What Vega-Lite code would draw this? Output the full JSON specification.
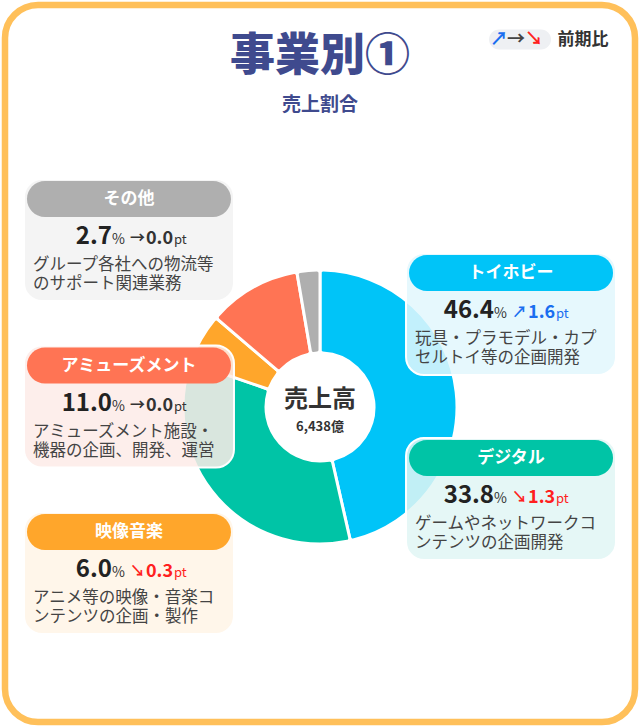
{
  "$schema": "https://vega.github.io/schema/vega-lite/v6.json",
  "width": 640,
  "height": 727,
  "autosize": {"type": "fit", "contains": "padding"},
  "padding": 5,
  "background": "white",
  "config": {
    "font": "Noto Sans CJK JP",
    "view": {"stroke": "#FFC05A", "strokeWidth": 6.5, "cornerRadius": 33, "fill": "white"},
    "text": {"font": "Noto Sans CJK JP"}
  },
  "datasets": {
    "segments": [
      {"rank": 1, "segment": "トイホビー", "share": 46.4, "change": 1.6, "trend": "up", "note": "玩具・プラモデル・カプ\nセルトイ等の企画開発"},
      {"rank": 2, "segment": "デジタル", "share": 33.8, "change": 1.3, "trend": "down", "note": "ゲームやネットワークコ\nンテンツの企画開発"},
      {"rank": 3, "segment": "映像音楽", "share": 6.0, "change": 0.3, "trend": "down", "note": "アニメ等の映像・音楽コ\nンテンツの企画・製作"},
      {"rank": 4, "segment": "アミューズメント", "share": 11.0, "change": 0.0, "trend": "flat", "note": "アミューズメント施設・\n機器の企画、開発、運営"},
      {"rank": 5, "segment": "その他", "share": 2.7, "change": 0.0, "trend": "flat", "note": "グループ各社への物流等\nのサポート関連業務"}
    ],
    "total": [{"label": "売上高", "amount": "6,438億"}],
    "headings": [
      {"slot": "タイトル", "text": "事業別①"},
      {"slot": "サブタイトル", "text": "売上割合"},
      {"slot": "凡例", "text": "前期比"}
    ],
    "trends": [
      {"trend": "up", "symbol": "↗"},
      {"trend": "flat", "symbol": "→"},
      {"trend": "down", "symbol": "↘"}
    ]
  },
  "resolve": {"scale": {"y": "independent"}},
  "layer": [
    {
      "data": {"name": "segments"},
      "encoding": {
        "x": {"datum": "中", "type": "nominal", "axis": null, "scale": {"type": "point", "domain": ["左", "中", "右"], "padding": 0.649}},
        "y": {"datum": "売上高", "type": "nominal", "axis": null, "scale": {"type": "point", "domain": ["売上高"], "padding": 1, "align": 0.5607}}
      },
      "layer": [
        {
          "mark": {"type": "arc", "outerRadius": 137, "innerRadius": 54, "stroke": "white", "strokeWidth": 3, "cornerRadius": 3},
          "encoding": {
            "theta": {"field": "share", "type": "quantitative", "stack": true},
            "order": {"field": "rank", "type": "quantitative", "sort": "ascending"},
            "color": {"field": "segment", "type": "nominal", "legend": null,
              "scale": {"domain": ["トイホビー", "デジタル", "映像音楽", "アミューズメント", "その他"], "range": ["#00C4F8", "#00C4A6", "#FFA62B", "#FF7454", "#AFAFAF"]}}
          }
        },
        {
          "data": {"name": "total"},
          "mark": {"type": "text", "dy": -7, "fontSize": 24, "fontWeight": "bold", "color": "#333333"},
          "encoding": {"text": {"field": "label", "type": "nominal"}}
        },
        {
          "data": {"name": "total"},
          "mark": {"type": "text", "dy": 20, "fontSize": 13, "fontWeight": "bold", "color": "#333333"},
          "encoding": {"text": {"field": "amount", "type": "nominal"}}
        }
      ]
    },
    {
      "layer": [
        {
          "data": {"name": "headings"},
          "transform": [{"filter": {"field": "slot", "equal": "タイトル"}}],
          "mark": {"type": "text", "fontSize": 45, "fontWeight": 900, "color": "#3F4A8E", "dy": 1},
          "encoding": {
            "x": {"datum": "中", "type": "nominal", "axis": null, "scale": {"type": "point", "domain": ["左", "中", "右"], "padding": 0.649}},
            "y": {"field": "slot", "type": "nominal", "axis": null, "scale": {"type": "point", "padding": 0.3784, "align": 1, "domain": ["_0","凡例","タイトル","_3","_4","サブタイトル","_6","_7","_8","_9","_10","_11","その他","_13","_14","_15","トイホビー","_17","_18","_19","_20","アミューズメント","_22","_23","_24","_25","デジタル","_27","_28","_29","映像音楽","_31","_32","_33","_34","_35","_36","_37","_38"]}},
            "text": {"field": "text", "type": "nominal"}
          }
        },
        {
          "data": {"name": "headings"},
          "transform": [{"filter": {"field": "slot", "equal": "サブタイトル"}}],
          "mark": {"type": "text", "fontSize": 19, "fontWeight": "bold", "color": "#3F4A8E", "dy": -7},
          "encoding": {
            "x": {"datum": "中", "type": "nominal", "axis": null, "scale": {"type": "point", "domain": ["左", "中", "右"], "padding": 0.649}},
            "y": {"field": "slot", "type": "nominal", "axis": null, "scale": {"type": "point", "padding": 0.3784, "align": 1, "domain": ["_0","凡例","タイトル","_3","_4","サブタイトル","_6","_7","_8","_9","_10","_11","その他","_13","_14","_15","トイホビー","_17","_18","_19","_20","アミューズメント","_22","_23","_24","_25","デジタル","_27","_28","_29","映像音楽","_31","_32","_33","_34","_35","_36","_37","_38"]}},
            "text": {"field": "text", "type": "nominal"}
          }
        },
        {
          "data": {"name": "headings"},
          "transform": [{"filter": {"field": "slot", "equal": "凡例"}}],
          "encoding": {
            "x": {"datum": "右", "type": "nominal", "axis": null, "scale": {"type": "point", "domain": ["左", "中", "右"], "padding": 0.649}},
            "y": {"field": "slot", "type": "nominal", "axis": null, "scale": {"type": "point", "padding": 0.3784, "align": 1, "domain": ["_0","凡例","タイトル","_3","_4","サブタイトル","_6","_7","_8","_9","_10","_11","その他","_13","_14","_15","トイホビー","_17","_18","_19","_20","アミューズメント","_22","_23","_24","_25","デジタル","_27","_28","_29","映像音楽","_31","_32","_33","_34","_35","_36","_37","_38"]}}
          },
          "layer": [
            {
              "mark": {"type": "rect", "width": 62, "height": 20, "cornerRadius": 10, "color": "#EEF0F3"},
              "encoding": {"xOffset": {"value": 9}, "yOffset": {"value": 2}}
            },
            {
              "mark": {"type": "text", "fontSize": 17, "fontWeight": "bold", "color": "#333333", "dx": 72, "dy": 2},
              "encoding": {"text": {"field": "text", "type": "nominal"}}
            }
          ]
        },
        {
          "data": {"name": "trends"},
          "encoding": {
            "x": {"datum": "右", "type": "nominal", "axis": null, "scale": {"type": "point", "domain": ["左", "中", "右"], "padding": 0.649}},
            "y": {"datum": "凡例", "type": "nominal", "axis": null, "scale": {"type": "point", "padding": 0.3784, "align": 1, "domain": ["_0","凡例","タイトル","_3","_4","サブタイトル","_6","_7","_8","_9","_10","_11","その他","_13","_14","_15","トイホビー","_17","_18","_19","_20","アミューズメント","_22","_23","_24","_25","デジタル","_27","_28","_29","映像音楽","_31","_32","_33","_34","_35","_36","_37","_38"]}},
            "text": {"field": "symbol", "type": "nominal"}
          },
          "layer": [
            {
              "transform": [{"filter": {"field": "trend", "equal": "up"}}],
              "mark": {"type": "text", "fontSize": 18, "fontWeight": "bold", "color": "#1A6EF0", "dx": -12, "dy": 2}
            },
            {
              "transform": [{"filter": {"field": "trend", "equal": "flat"}}],
              "mark": {"type": "text", "fontSize": 18, "fontWeight": "bold", "color": "#444444", "dx": 5, "dy": 2}
            },
            {
              "transform": [{"filter": {"field": "trend", "equal": "down"}}],
              "mark": {"type": "text", "fontSize": 18, "fontWeight": "bold", "color": "#FF2020", "dx": 23, "dy": 2}
            }
          ]
        },
        {
          "data": {"name": "segments"},
          "transform": [{"filter": {"field": "segment", "oneOf": ["その他", "アミューズメント", "映像音楽"]}}],
          "encoding": {
            "x": {"datum": "左", "type": "nominal", "axis": null, "scale": {"type": "point", "domain": ["左", "中", "右"], "padding": 0.649}},
            "y": {"field": "segment", "type": "nominal", "axis": null, "scale": {"type": "point", "padding": 0.3784, "align": 1, "domain": ["_0","凡例","タイトル","_3","_4","サブタイトル","_6","_7","_8","_9","_10","_11","その他","_13","_14","_15","トイホビー","_17","_18","_19","_20","アミューズメント","_22","_23","_24","_25","デジタル","_27","_28","_29","映像音楽","_31","_32","_33","_34","_35","_36","_37","_38"]}}
          },
          "layer": [
            {
              "mark": {"type": "rect", "width": 210, "height": 122, "cornerRadius": 18, "fillOpacity": 0.86, "stroke": "white", "strokeWidth": 2},
              "encoding": {
                "fill": {"field": "segment", "type": "nominal", "legend": null, "scale": {"domain": ["トイホビー", "デジタル", "映像音楽", "アミューズメント", "その他"], "range": ["#E2F7FD", "#E1F6F4", "#FFF4E6", "#FDEBE8", "#F2F2F2"]}},
                "yOffset": {"value": -1}
              }
            },
            {
              "mark": {"type": "rect", "width": 204, "height": 36, "cornerRadius": 18},
              "encoding": {
                "color": {"field": "segment", "type": "nominal", "legend": null, "scale": {"domain": ["トイホビー", "デジタル", "映像音楽", "アミューズメント", "その他"], "range": ["#00C4F8", "#00C4A6", "#FFA62B", "#FF7454", "#AFAFAF"]}},
                "yOffset": {"value": -42}
              }
            },
            {
              "mark": {"type": "text", "dy": -42, "fontSize": 17, "fontWeight": "bold", "color": "white"},
              "encoding": {"text": {"field": "segment", "type": "nominal"}}
            },
            {
              "mark": {"type": "text", "align": "right", "baseline": "alphabetic", "dx": -17, "dy": 3, "fontSize": 24, "fontWeight": "bold", "color": "#222222"},
              "encoding": {"text": {"field": "share", "type": "quantitative", "format": ".1f"}}
            },
            {
              "mark": {"type": "text", "align": "right", "baseline": "alphabetic", "dx": -4, "dy": 3, "fontSize": 14, "color": "#333333", "text": "%"},
              "encoding": {}
            },
            {
              "mark": {"type": "text", "align": "left", "baseline": "alphabetic", "dx": 1, "dy": 2, "fontSize": 15, "fontWeight": "bold"},
              "encoding": {
                "text": {"condition": [{"test": "datum.trend === 'up'", "value": "↗"}, {"test": "datum.trend === 'down'", "value": "↘"}], "value": "→"},
                "color": {"condition": [{"test": "datum.trend === 'up'", "value": "#1A6EF0"}, {"test": "datum.trend === 'down'", "value": "#FF2020"}], "value": "#333333"}
              }
            },
            {
              "mark": {"type": "text", "align": "left", "baseline": "alphabetic", "dx": 17, "dy": 3, "fontSize": 18, "fontWeight": "bold"},
              "encoding": {
                "text": {"field": "change", "type": "quantitative", "format": ".1f"},
                "color": {"condition": [{"test": "datum.trend === 'up'", "value": "#1A6EF0"}, {"test": "datum.trend === 'down'", "value": "#FF2020"}], "value": "#333333"}
              }
            },
            {
              "mark": {"type": "text", "align": "left", "baseline": "alphabetic", "dx": 45, "dy": 3, "fontSize": 13, "text": "pt"},
              "encoding": {
                "color": {"condition": [{"test": "datum.trend === 'up'", "value": "#1A6EF0"}, {"test": "datum.trend === 'down'", "value": "#FF2020"}], "value": "#333333"}
              }
            },
            {
              "mark": {"type": "text", "align": "left", "baseline": "alphabetic", "dx": -96, "dy": 29, "fontSize": 16.5, "lineBreak": "\n", "lineHeight": 19, "color": "#444444"},
              "encoding": {"text": {"field": "note", "type": "nominal"}}
            }
          ]
        },
        {
          "data": {"name": "segments"},
          "transform": [{"filter": {"field": "segment", "oneOf": ["トイホビー", "デジタル"]}}],
          "encoding": {
            "x": {"datum": "右", "type": "nominal", "axis": null, "scale": {"type": "point", "domain": ["左", "中", "右"], "padding": 0.649}},
            "y": {"field": "segment", "type": "nominal", "axis": null, "scale": {"type": "point", "padding": 0.3784, "align": 1, "domain": ["_0","凡例","タイトル","_3","_4","サブタイトル","_6","_7","_8","_9","_10","_11","その他","_13","_14","_15","トイホビー","_17","_18","_19","_20","アミューズメント","_22","_23","_24","_25","デジタル","_27","_28","_29","映像音楽","_31","_32","_33","_34","_35","_36","_37","_38"]}}
          },
          "layer": [
            {
              "mark": {"type": "rect", "width": 210, "height": 122, "cornerRadius": 18, "fillOpacity": 0.86, "stroke": "white", "strokeWidth": 2},
              "encoding": {
                "fill": {"field": "segment", "type": "nominal", "legend": null, "scale": {"domain": ["トイホビー", "デジタル", "映像音楽", "アミューズメント", "その他"], "range": ["#E2F7FD", "#E1F6F4", "#FFF4E6", "#FDEBE8", "#F2F2F2"]}},
                "yOffset": {"value": -1}
              }
            },
            {
              "mark": {"type": "rect", "width": 204, "height": 36, "cornerRadius": 18},
              "encoding": {
                "color": {"field": "segment", "type": "nominal", "legend": null, "scale": {"domain": ["トイホビー", "デジタル", "映像音楽", "アミューズメント", "その他"], "range": ["#00C4F8", "#00C4A6", "#FFA62B", "#FF7454", "#AFAFAF"]}},
                "yOffset": {"value": -42}
              }
            },
            {
              "mark": {"type": "text", "dy": -42, "fontSize": 17, "fontWeight": "bold", "color": "white"},
              "encoding": {"text": {"field": "segment", "type": "nominal"}}
            },
            {
              "mark": {"type": "text", "align": "right", "baseline": "alphabetic", "dx": -17, "dy": 3, "fontSize": 24, "fontWeight": "bold", "color": "#222222"},
              "encoding": {"text": {"field": "share", "type": "quantitative", "format": ".1f"}}
            },
            {
              "mark": {"type": "text", "align": "right", "baseline": "alphabetic", "dx": -4, "dy": 3, "fontSize": 14, "color": "#333333", "text": "%"},
              "encoding": {}
            },
            {
              "mark": {"type": "text", "align": "left", "baseline": "alphabetic", "dx": 1, "dy": 2, "fontSize": 15, "fontWeight": "bold"},
              "encoding": {
                "text": {"condition": [{"test": "datum.trend === 'up'", "value": "↗"}, {"test": "datum.trend === 'down'", "value": "↘"}], "value": "→"},
                "color": {"condition": [{"test": "datum.trend === 'up'", "value": "#1A6EF0"}, {"test": "datum.trend === 'down'", "value": "#FF2020"}], "value": "#333333"}
              }
            },
            {
              "mark": {"type": "text", "align": "left", "baseline": "alphabetic", "dx": 17, "dy": 3, "fontSize": 18, "fontWeight": "bold"},
              "encoding": {
                "text": {"field": "change", "type": "quantitative", "format": ".1f"},
                "color": {"condition": [{"test": "datum.trend === 'up'", "value": "#1A6EF0"}, {"test": "datum.trend === 'down'", "value": "#FF2020"}], "value": "#333333"}
              }
            },
            {
              "mark": {"type": "text", "align": "left", "baseline": "alphabetic", "dx": 45, "dy": 3, "fontSize": 13, "text": "pt"},
              "encoding": {
                "color": {"condition": [{"test": "datum.trend === 'up'", "value": "#1A6EF0"}, {"test": "datum.trend === 'down'", "value": "#FF2020"}], "value": "#333333"}
              }
            },
            {
              "mark": {"type": "text", "align": "left", "baseline": "alphabetic", "dx": -96, "dy": 29, "fontSize": 16.5, "lineBreak": "\n", "lineHeight": 19, "color": "#444444"},
              "encoding": {"text": {"field": "note", "type": "nominal"}}
            }
          ]
        }
      ]
    }
  ]
}
